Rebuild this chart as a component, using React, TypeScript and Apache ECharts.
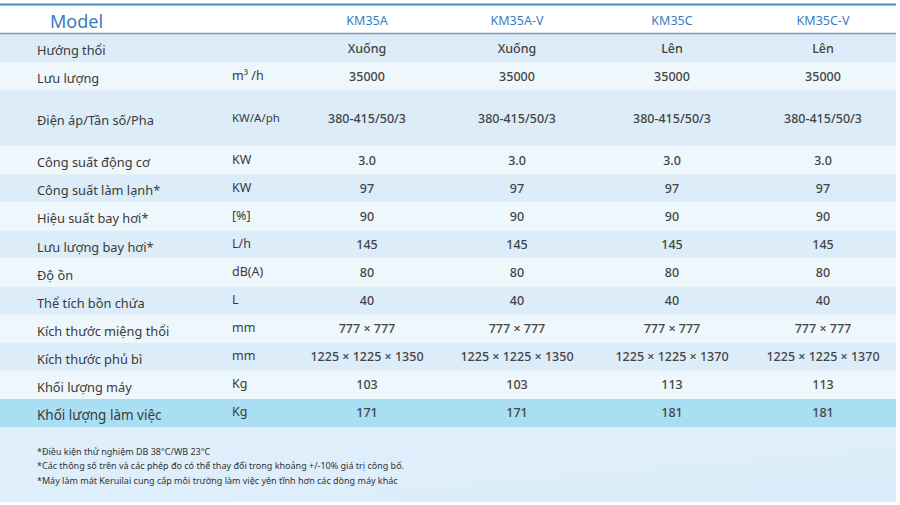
import React, { useEffect, useRef } from "react";
import * as echarts from "echarts";

const title = "Model";
const models = ["KM35A", "KM35A-V", "KM35C", "KM35C-V"];
const labels = [
  "Hướng thổi",
  "Lưu lượng",
  "Điện áp/Tần số/Pha",
  "Công suất động cơ",
  "Công suất làm lạnh*",
  "Hiệu suất bay hơi*",
  "Lưu lượng bay hơi*",
  "Độ ồn",
  "Thể tích bồn chứa",
  "Kích thước miệng thổi",
  "Kích thước phủ bì",
  "Khối lượng máy",
  "Khối lượng làm việc",
];
const units = ["", "m³ /h", "KW/A/ph", "KW", "KW", "[%]", "L/h", "dB(A)", "L", "mm", "mm", "Kg", "Kg"];
const valuesKM35A = ["Xuống", "35000", "380-415/50/3", "3.0", "97", "90", "145", "80", "40", "777 × 777", "1225 × 1225 × 1350", "103", "171"];
const valuesKM35AV = ["Xuống", "35000", "380-415/50/3", "3.0", "97", "90", "145", "80", "40", "777 × 777", "1225 × 1225 × 1350", "103", "171"];
const valuesKM35C = ["Lên", "35000", "380-415/50/3", "3.0", "97", "90", "145", "80", "40", "777 × 777", "1225 × 1225 × 1370", "113", "181"];
const valuesKM35CV = ["Lên", "35000", "380-415/50/3", "3.0", "97", "90", "145", "80", "40", "777 × 777", "1225 × 1225 × 1370", "113", "181"];
const footnotes = [
  "*Điều kiện thử nghiệm DB 38°C/WB 23°C",
  "*Các thông số trên và các phép đo có thể thay đổi trong khoảng +/-10% giá trị công bố.",
  "*Máy làm mát Keruilai cung cấp môi trường làm việc yên tĩnh hơn các dòng máy khác",
];

// layout (not data)
const rowSpans = [1, 1, 2, 1, 1, 1, 1, 1, 1, 1, 1, 1, 1];
const colCenters = [367, 517, 672, 823];
const labelX = 37;
const unitX = 232;
const tableRight = 896;
const FONT = "'Noto Sans', 'Open Sans', sans-serif";

export default function App() {
  const ref = useRef<HTMLDivElement>(null);
  useEffect(() => {
    if (!ref.current) return;
    const chart = echarts.init(ref.current, null, { renderer: "svg" });
    const allValues = [valuesKM35A, valuesKM35AV, valuesKM35C, valuesKM35CV];
    const starts: number[] = [];
    let acc = 0;
    rowSpans.forEach((s) => {
      starts.push(acc);
      acc += s;
    });
    const total = acc;
    const nRows = labels.length;

    const renderItem = (params: any, api: any) => {
      const i = params.dataIndex;
      const p0 = api.coord([0, starts[i]]);
      const p1 = api.coord([tableRight, starts[i] + rowSpans[i]]);
      const y0 = p0[1];
      const y1 = p1[1];
      const cy = (y0 + y1) / 2;
      const isLast = i === nRows - 1;
      const bg = isLast ? "#a9def3" : i % 2 === 0 ? "#dcedf9" : "#eef7fc";
      const children: any[] = [
        {
          type: "rect",
          shape: { x: p0[0], y: y0, width: p1[0] - p0[0], height: y1 - y0 },
          style: { fill: bg },
          silent: true,
        },
        {
          type: "text",
          style: {
            text: labels[i],
            x: api.coord([labelX, 0])[0],
            y: cy + 2,
            fill: "#3a3a3a",
            font: `${isLast ? 13.5 : 12.8}px ${FONT}`,
            textAlign: "left",
            textVerticalAlign: "middle",
          },
        },
      ];
      if (units[i]) {
        children.push({
          type: "text",
          style: {
            text: units[i],
            x: api.coord([unitX, 0])[0],
            y: cy - 1,
            fill: "#3a3a3a",
            font: `${i === 2 ? 11.5 : 12.5}px ${FONT}`,
            textAlign: "left",
            textVerticalAlign: "middle",
          },
        });
      }
      allValues.forEach((vals, c) => {
        children.push({
          type: "text",
          style: {
            text: vals[i],
            x: api.coord([colCenters[c], 0])[0],
            y: cy,
            fill: "#444444",
            font: `500 12.5px ${FONT}`,
            textAlign: "center",
            textVerticalAlign: "middle",
          },
        });
      });
      return { type: "group", children };
    };

    const graphic: any[] = [
      {
        type: "rect",
        shape: { x: 0, y: 427, width: tableRight, height: 75 },
        style: {
          fill: new echarts.graphic.LinearGradient(0, 0, 1, 1, [
            { offset: 0, color: "#e1effa" },
            { offset: 1, color: "#dbedfa" },
          ]),
        },
        z: -1,
      },
      {
        type: "line",
        shape: { x1: 0, y1: 4.5, x2: tableRight, y2: 4.5 },
        style: { stroke: "#4a86c4", lineWidth: 2 },
      },
      {
        type: "line",
        shape: { x1: 0, y1: 33.5, x2: tableRight, y2: 33.5 },
        style: { stroke: "#7d98b5", lineWidth: 1.5 },
        z: 10,
      },
      {
        type: "text",
        style: {
          text: title,
          x: 50,
          y: 21,
          fill: "#3a7cc0",
          font: `18px ${FONT}`,
          textAlign: "left",
          textVerticalAlign: "middle",
        },
      },
      ...models.map((m, c) => ({
        type: "text",
        style: {
          text: m,
          x: colCenters[c],
          y: 20,
          fill: "#3a7dbf",
          font: `12.5px ${FONT}`,
          textAlign: "center",
          textVerticalAlign: "middle",
        },
      })),
      ...footnotes.map((t, k) => ({
        type: "text",
        style: {
          text: t,
          x: labelX,
          y: 451 + k * 14.5,
          fill: "#333333",
          font: `9px ${FONT}`,
          textAlign: "left",
          textVerticalAlign: "middle",
        },
      })),
    ];

    chart.setOption({
      animation: false,
      backgroundColor: "#ffffff",
      grid: { left: 0, right: 0, top: 34, bottom: 78 },
      xAxis: { type: "value", min: 0, max: 900, show: false },
      yAxis: { type: "value", min: 0, max: total, inverse: true, show: false },
      series: [
        {
          type: "custom",
          renderItem,
          data: labels.map((_, i) => [i]),
          clip: false,
          silent: true,
        },
      ],
      graphic,
    });
    return () => chart.dispose();
  }, []);
  return (
    <div
      ref={ref}
      style={{ position: "fixed", left: 0, top: 0, width: 900, height: 505, background: "#fff" }}
    />
  );
}
